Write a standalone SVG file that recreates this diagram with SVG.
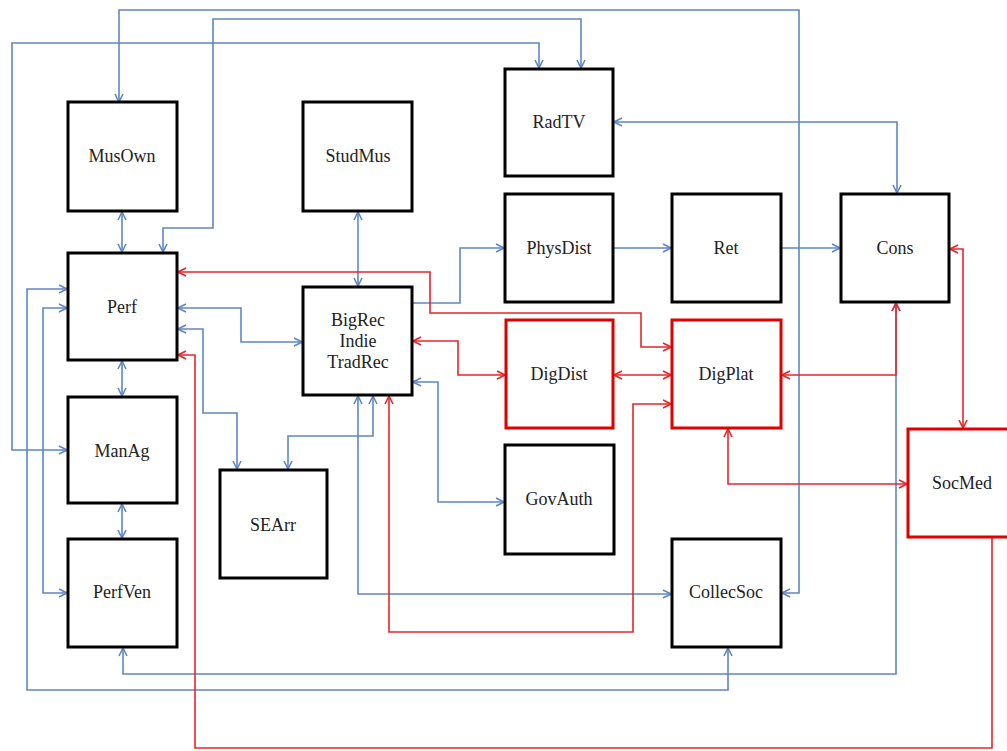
<svg xmlns="http://www.w3.org/2000/svg" width="1007" height="751" viewBox="0 0 1007 751">
<style>
.box{fill:#fff;stroke:#000;stroke-width:3}
.rbox{fill:#fff;stroke:#e00000;stroke-width:3}
.lbl{font-family:"Liberation Serif","Times New Roman",serif;font-size:18px;fill:#222;text-anchor:middle}
.b{fill:none;stroke:#5f87c4;stroke-width:1.6}
.r{fill:none;stroke:#e5262b;stroke-width:1.6}
.b2{marker-start:url(#ab);marker-end:url(#ab)}
.b1{marker-end:url(#ab)}
.r2{marker-start:url(#ar);marker-end:url(#ar)}
.r1{marker-end:url(#ar)}
</style>
<defs>
<marker id="ab" viewBox="0 0 10 10" refX="9" refY="5" markerWidth="10" markerHeight="10" markerUnits="userSpaceOnUse" orient="auto-start-reverse"><path d="M1,1 L9,5 L1,9" fill="none" stroke="#5f87c4" stroke-width="1.6"/></marker>
<marker id="ar" viewBox="0 0 10 10" refX="9" refY="5" markerWidth="10" markerHeight="10" markerUnits="userSpaceOnUse" orient="auto-start-reverse"><path d="M1,1 L9,5 L1,9" fill="none" stroke="#e5262b" stroke-width="1.6"/></marker>
</defs>
<rect width="1007" height="751" fill="#fff"/>
<g id="connectors">
<path class="b b2" d="M119,102 V10 H799 V593 H782"/>
<path class="b b2" d="M163,252 V228 H213 V19 H581 V68"/>
<path class="b b2" d="M67,450 H12 V43 H539 V68"/>
<path class="b b2" d="M614,122 H897 V193"/>
<path class="b b2" d="M122,212 V252"/>
<path class="b b2" d="M358,212 V286"/>
<path class="b b1" d="M413,303 H460 V248 H504"/>
<path class="b b1" d="M614,248 H671"/>
<path class="b b1" d="M782,248 H840"/>
<path class="b b2" d="M178,308 H241 V342 H302"/>
<path class="b b2" d="M178,329 H203 V413 H237 V469"/>
<path class="b b2" d="M288,469 V436 H373 V396"/>
<path class="b b2" d="M358,396 V594 H671"/>
<path class="b b2" d="M413,382 H438 V502 H504"/>
<path class="b b2" d="M122,361 V396"/>
<path class="b b2" d="M122,504 V538"/>
<path class="b b2" d="M67,289 H27 V690 H728 V648"/>
<path class="b b2" d="M67,308 H43 V593 H67"/>
<path class="b b2" d="M123,648 V674 H896 V303"/>
<path class="r r2" d="M178,272 H430 V313 H641 V347 H671"/>
<path class="r r2" d="M413,341 H458 V375 H505"/>
<path class="r r2" d="M614,375 H671"/>
<path class="r r2" d="M671,404 H633 V632 H389 V396"/>
<path class="r r2" d="M782,375 H896 V303"/>
<path class="r r2" d="M728,429 V484 H907"/>
<path class="r r2" d="M950,249 H963 V428"/>
<path class="r r1" d="M992,538 V748 H195 V355 H178"/>
</g>
<g id="MusOwn"><rect class="box" x="68" y="102" width="109" height="109"/><text class="lbl" x="122" y="162">MusOwn</text></g>
<g id="StudMus"><rect class="box" x="303" y="102" width="109" height="109"/><text class="lbl" x="358" y="162">StudMus</text></g>
<g id="RadTV"><rect class="box" x="505" y="69" width="108" height="107"/><text class="lbl" x="559" y="128">RadTV</text></g>
<g id="PhysDist"><rect class="box" x="505" y="194" width="108" height="108"/><text class="lbl" x="559" y="254">PhysDist</text></g>
<g id="Ret"><rect class="box" x="672" y="194" width="109" height="108"/><text class="lbl" x="726" y="254">Ret</text></g>
<g id="Cons"><rect class="box" x="841" y="194" width="108" height="108"/><text class="lbl" x="895" y="254">Cons</text></g>
<g id="Perf"><rect class="box" x="68" y="253" width="109" height="107"/><text class="lbl" x="122" y="313">Perf</text></g>
<g id="BigRec"><rect class="box" x="303" y="287" width="109" height="108"/><text class="lbl" x="358" y="326">BigRec</text><text class="lbl" x="358" y="347">Indie</text><text class="lbl" x="358" y="368">TradRec</text></g>
<g id="DigDist"><rect class="rbox" x="506" y="320" width="107" height="108"/><text class="lbl" x="559" y="380">DigDist</text></g>
<g id="DigPlat"><rect class="rbox" x="672" y="320" width="109" height="108"/><text class="lbl" x="726" y="380">DigPlat</text></g>
<g id="SocMed"><rect class="rbox" x="908" y="429" width="108" height="108"/><text class="lbl" x="962" y="489">SocMed</text></g>
<g id="ManAg"><rect class="box" x="68" y="397" width="109" height="106"/><text class="lbl" x="122" y="457">ManAg</text></g>
<g id="SEArr"><rect class="box" x="220" y="470" width="107" height="108"/><text class="lbl" x="273" y="531">SEArr</text></g>
<g id="GovAuth"><rect class="box" x="505" y="445" width="109" height="109"/><text class="lbl" x="559" y="505">GovAuth</text></g>
<g id="PerfVen"><rect class="box" x="68" y="539" width="109" height="108"/><text class="lbl" x="122" y="598">PerfVen</text></g>
<g id="CollecSoc"><rect class="box" x="672" y="539" width="109" height="108"/><text class="lbl" x="726" y="598">CollecSoc</text></g>
</svg>
